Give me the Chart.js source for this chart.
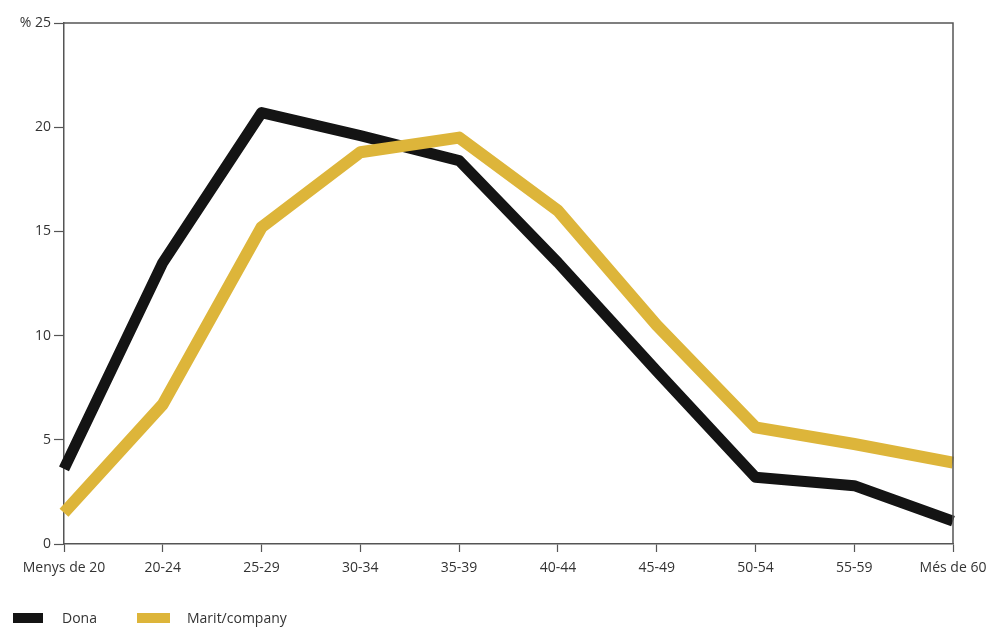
<!DOCTYPE html>
<html>
<head>
<meta charset="utf-8">
<script src="https://cdn.jsdelivr.net/npm/chart.js@4/dist/chart.umd.min.js"></script>
<style>
html,body{margin:0;padding:0;background:#fff;}
#wrap{position:relative;width:991px;height:628px;}
canvas{position:absolute;left:0;top:0;}
.leg{position:absolute;top:609px;font-family:"Open Sans",sans-serif;font-size:14px;color:#333;height:18px;line-height:18px;}
.sw{position:absolute;top:613px;height:10px;}
</style>
</head>
<body>
<div id="wrap">
<canvas id="c" width="991" height="628"></canvas>
<div class="sw" style="left:13px;width:30px;background:#141414"></div>
<div class="leg" id="l1" style="left:62px"></div>
<div class="sw" style="left:137px;width:33px;background:#ddb53a"></div>
<div class="leg" id="l2" style="left:187px"></div>
</div>
<script>
const categories = ["Menys de 20","20-24","25-29","30-34","35-39","40-44","45-49","50-54","55-59","Més de 60"];
const seriesNames = ["Dona","Marit/company"];
const dona = [3.6, 13.5, 20.7, 19.6, 18.4, 13.5, 8.3, 3.2, 2.8, 1.1];
const marit = [1.5, 6.7, 15.2, 18.8, 19.5, 16.0, 10.5, 5.6, 4.8, 3.9];
const yTicks = [0, 5, 10, 15, 20, 25];

document.getElementById('l1').textContent = seriesNames[0];
document.getElementById('l2').textContent = seriesNames[1];

const frame = {
  id: 'frame',
  afterDraw(chart) {
    const {ctx, chartArea: a} = chart;
    ctx.save();
    ctx.strokeStyle = '#555';
    ctx.lineWidth = 1.5;
    ctx.beginPath();
    ctx.moveTo(a.left, a.top);
    ctx.lineTo(a.right, a.top);
    ctx.lineTo(a.right, a.bottom);
    ctx.stroke();
    ctx.restore();
  }
};

Chart.defaults.font.family = '"Open Sans", sans-serif';
Chart.defaults.font.size = 14;
Chart.defaults.color = '#333';

new Chart(document.getElementById('c'), {
  type: 'line',
  data: {
    labels: categories,
    datasets: [
      {label: seriesNames[1], data: marit, borderColor: '#ddb53a', borderWidth: 12, pointRadius: 0, tension: 0, borderJoinStyle: 'round', borderCapStyle: 'butt'},
      {label: seriesNames[0], data: dona, borderColor: '#141414', borderWidth: 11, pointRadius: 0, tension: 0, borderJoinStyle: 'round', borderCapStyle: 'butt'}
    ]
  },
  options: {
    responsive: false,
    animation: false,
    layout: {padding: {left: 0, right: 38, top: 23, bottom: 44}},
    plugins: {legend: {display: false}, tooltip: {enabled: false}},
    scales: {
      x: {
        offset: false,
        grid: {drawOnChartArea: false, drawTicks: true, tickLength: 8, tickColor: '#555', tickWidth: 1.2},
        border: {display: true, color: '#555', width: 1.5},
        ticks: {padding: 8, maxRotation: 0, autoSkip: false, color: '#333'},
        afterFit(s) { s.height = 40; s.paddingLeft = 0; s.paddingRight = 0; }
      },
      y: {
        min: 0, max: 25,
        afterBuildTicks(s) { s.ticks = yTicks.map(v => ({value: v})); },
        grid: {drawOnChartArea: false, drawTicks: true, tickLength: 10, tickColor: '#555', tickWidth: 1.2},
        border: {display: true, color: '#555', width: 1.5},
        ticks: {padding: 3, color: '#333', callback: v => v === 25 ? '% 25' : String(v)},
        afterFit(s) { s.width = 64; s.paddingTop = 0; s.paddingBottom = 0; }
      }
    }
  },
  plugins: [frame]
});
</script>
</body>
</html>
